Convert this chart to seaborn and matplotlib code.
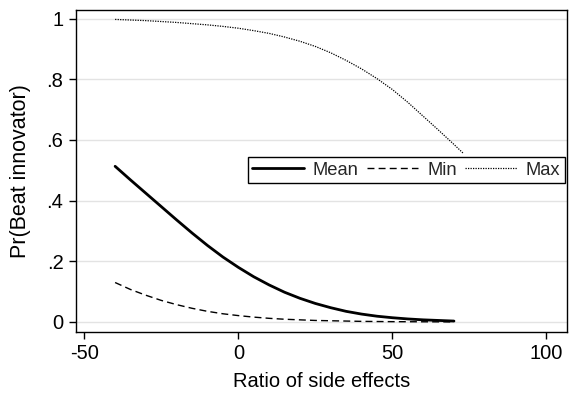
import matplotlib
matplotlib.use("Agg")
import matplotlib.pyplot as plt
import seaborn as sns
import pandas as pd

ratio = [-40, -35, -30, -25, -20, -15, -10, -5, 0, 5, 10, 15, 20,
         25, 30, 35, 40, 45, 50, 55, 60, 65, 70]
mean_vals = [0.513, 0.468, 0.424, 0.380, 0.336, 0.293, 0.252, 0.214, 0.180,
             0.149, 0.122, 0.098, 0.078, 0.061, 0.047, 0.035, 0.026, 0.019,
             0.014, 0.010, 0.007, 0.005, 0.003]
min_vals = [0.130, 0.107, 0.088, 0.071, 0.057, 0.045, 0.035, 0.027, 0.021,
            0.016, 0.012, 0.009, 0.007, 0.005, 0.004, 0.003, 0.002, 0.0015,
            0.001, 0.0008, 0.0006, 0.0004, 0.0003]
max_ratio = [-40, -35, -30, -25, -20, -15, -10, -5, 0, 5, 10, 15, 20,
             25, 30, 35, 40, 45, 50, 55, 60, 65, 70, 73]
max_vals = [0.997, 0.995, 0.993, 0.990, 0.987, 0.983, 0.979, 0.974, 0.968,
            0.960, 0.951, 0.939, 0.925, 0.908, 0.887, 0.862, 0.834, 0.802,
            0.766, 0.724, 0.678, 0.632, 0.585, 0.556]

x_ticks = [-50, 0, 50, 100]
y_ticks = [0, 0.2, 0.4, 0.6, 0.8, 1.0]
y_ticklabels = ["0", ".2", ".4", ".6", ".8", "1"]

sns.set_theme(style="white")
plt.rcParams["font.family"] = ["Liberation Sans", "DejaVu Sans"]

fig = plt.figure(figsize=(5.77, 3.94), dpi=100)
ax = fig.add_axes([0.1317, 0.1574, 0.851, 0.8172])

df_mean = pd.DataFrame({"x": ratio, "y": mean_vals})
df_min = pd.DataFrame({"x": ratio, "y": min_vals})
df_max = pd.DataFrame({"x": max_ratio, "y": max_vals})

sns.lineplot(data=df_mean, x="x", y="y", ax=ax, color="black", lw=2.0,
             label="Mean", zorder=3)
sns.lineplot(data=df_min, x="x", y="y", ax=ax, color="black", lw=1.0,
             label="Min", zorder=3)
sns.lineplot(data=df_max, x="x", y="y", ax=ax, color="black", lw=0.9,
             label="Max", zorder=3)
lines = ax.get_lines()
lines[1].set_dashes((5, 3))
lines[2].set_dashes((1, 1))

ax.set_xlim(-52.7, 106.7)
ax.set_ylim(-0.033, 1.028)
ax.set_xticks(x_ticks)
ax.set_xticklabels([str(t) for t in x_ticks])
ax.set_yticks(y_ticks)
ax.set_yticklabels(y_ticklabels)
ax.tick_params(axis="both", direction="out", length=5, width=1, color="black",
               labelsize=14.5, labelcolor="black", pad=4)
ax.tick_params(left=True, bottom=True)
ax.yaxis.grid(True, color="#e3e3e3", lw=1)
ax.xaxis.grid(False)
ax.set_axisbelow(True)
for s in ax.spines.values():
    s.set_visible(True)
    s.set_color("black")
    s.set_linewidth(1.0)

ax.set_xlabel("Ratio of side effects", fontsize=14.5, color="black", labelpad=6)
ax.set_ylabel("Pr(Beat innovator)", fontsize=15.5, color="black", labelpad=11)

leg = ax.legend(loc="center right", bbox_to_anchor=(0.996, 0.503), ncol=3,
                fontsize=13.2, frameon=True, fancybox=False, handlelength=2.8,
                handletextpad=0.5, columnspacing=0.45, borderpad=0.25,
                borderaxespad=0)
leg.get_frame().set_edgecolor("black")
leg.get_frame().set_linewidth(1.0)
leg.get_frame().set_facecolor("white")
leg.get_frame().set_alpha(1)
leg.set_zorder(5)

fig.savefig("out.png", dpi=100)
